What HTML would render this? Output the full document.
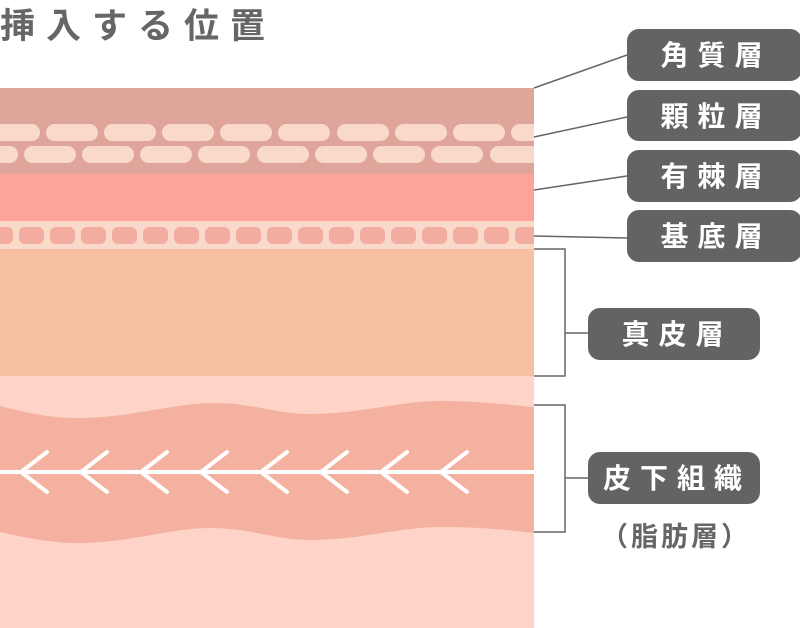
<!DOCTYPE html>
<html><head><meta charset="utf-8"><style>
body{margin:0;width:800px;height:628px;overflow:hidden;background:#fff;font-family:"Liberation Sans","Noto Sans CJK JP",sans-serif}
</style></head><body>
<svg width="800" height="628" viewBox="0 0 800 628" xmlns="http://www.w3.org/2000/svg" style="position:absolute;left:0;top:0">
<defs><clipPath id="c"><rect x="0" y="0" width="534" height="628"/></clipPath></defs>
<text x="0" y="38" font-size="35" font-weight="bold" fill="#666" letter-spacing="11" font-family="Liberation Sans, Noto Sans CJK JP, sans-serif">挿入する位置</text>
<g clip-path="url(#c)">
<rect x="0" y="88" width="534" height="86" fill="#dfa59a"/>
<g fill="#f9d9ca">
<rect x="-12" y="124" width="52" height="17" rx="8.5"/><rect x="46" y="124" width="52" height="17" rx="8.5"/><rect x="104" y="124" width="52" height="17" rx="8.5"/><rect x="162" y="124" width="52" height="17" rx="8.5"/><rect x="220" y="124" width="52" height="17" rx="8.5"/><rect x="278" y="124" width="52" height="17" rx="8.5"/><rect x="337" y="124" width="52" height="17" rx="8.5"/><rect x="395" y="124" width="52" height="17" rx="8.5"/><rect x="453" y="124" width="52" height="17" rx="8.5"/><rect x="511" y="124" width="52" height="17" rx="8.5"/>
<rect x="-34" y="146" width="52" height="17" rx="8.5"/><rect x="24" y="146" width="52" height="17" rx="8.5"/><rect x="82" y="146" width="52" height="17" rx="8.5"/><rect x="140" y="146" width="52" height="17" rx="8.5"/><rect x="198" y="146" width="52" height="17" rx="8.5"/><rect x="257" y="146" width="52" height="17" rx="8.5"/><rect x="315" y="146" width="52" height="17" rx="8.5"/><rect x="373" y="146" width="52" height="17" rx="8.5"/><rect x="431" y="146" width="52" height="17" rx="8.5"/><rect x="490" y="146" width="52" height="17" rx="8.5"/>
</g>
<rect x="0" y="174" width="534" height="47" fill="#fea39a"/>
<rect x="0" y="221" width="534" height="28" fill="#f9d9ca"/>
<g fill="#f2aca0">
<rect x="-12" y="227" width="25" height="17" rx="6"/><rect x="19" y="227" width="25" height="17" rx="6"/><rect x="50" y="227" width="25" height="17" rx="6"/><rect x="81" y="227" width="25" height="17" rx="6"/><rect x="112" y="227" width="25" height="17" rx="6"/><rect x="143" y="227" width="25" height="17" rx="6"/><rect x="174" y="227" width="25" height="17" rx="6"/><rect x="205" y="227" width="25" height="17" rx="6"/><rect x="236" y="227" width="25" height="17" rx="6"/><rect x="267" y="227" width="25" height="17" rx="6"/><rect x="298" y="227" width="25" height="17" rx="6"/><rect x="329" y="227" width="25" height="17" rx="6"/><rect x="360" y="227" width="25" height="17" rx="6"/><rect x="391" y="227" width="25" height="17" rx="6"/><rect x="422" y="227" width="25" height="17" rx="6"/><rect x="453" y="227" width="25" height="17" rx="6"/><rect x="484" y="227" width="25" height="17" rx="6"/><rect x="515" y="227" width="25" height="17" rx="6"/>
</g>
<rect x="0" y="249" width="534" height="127" fill="#f7c0a0"/>
<rect x="0" y="376" width="534" height="252" fill="#fed3c8"/>
<path d="M0 406 C30 414 55 418 77 418 C130 418 170 404 210 403 C250 402 275 414 310 414 C360 414 400 401 440 401 C480 401 510 405 534 407 L534 533 C510 530 480 527 440 527 C400 527 360 540 310 540 C275 540 250 528 210 528 C170 528 130 543 77 543 C55 543 30 539 0 532 Z" fill="#f4b19f"/>
<line x1="0" y1="472" x2="534" y2="472" stroke="#fff" stroke-width="4"/>
<g stroke="#fff" stroke-width="4" stroke-linecap="round" fill="none">
<polyline points="47,452 21,472 47,492"/><polyline points="107,452 81,472 107,492"/><polyline points="167,452 141,472 167,492"/><polyline points="227,452 201,472 227,492"/><polyline points="287,452 261,472 287,492"/><polyline points="347,452 321,472 347,492"/><polyline points="407,452 381,472 407,492"/><polyline points="467,452 441,472 467,492"/>
</g>
</g>
<g stroke="#666" stroke-width="1.5" fill="none">
<line x1="534" y1="88" x2="627" y2="55"/>
<line x1="534" y1="137" x2="627" y2="117"/>
<line x1="534" y1="190" x2="627" y2="176"/>
<line x1="534" y1="236" x2="627" y2="238"/>
<polyline points="534,249 565,249 565,376 534,376"/>
<line x1="565" y1="333" x2="588" y2="333"/>
<polyline points="534,405 565,405 565,532 534,532"/>
<line x1="565" y1="478" x2="588" y2="478"/>
</g>
<g fill="#636363">
<rect x="627" y="29" width="175" height="52" rx="12"/>
<rect x="627" y="90" width="175" height="51" rx="12"/>
<rect x="627" y="150" width="175" height="52" rx="12"/>
<rect x="627" y="210" width="175" height="52" rx="12"/>
<rect x="588" y="308" width="172" height="52" rx="12"/>
<rect x="588" y="452" width="172" height="52" rx="12"/>
</g>
<g fill="#fff" font-size="28" font-weight="bold" text-anchor="middle" letter-spacing="9" font-family="Liberation Sans, Noto Sans CJK JP, sans-serif">
<text x="716" y="65">角質層</text>
<text x="716" y="126">顆粒層</text>
<text x="716" y="186">有棘層</text>
<text x="716" y="246">基底層</text>
<text x="677" y="344">真皮層</text>
<text x="677" y="488">皮下組織</text>
</g>
<text x="676" y="546" fill="#666" font-size="27" font-weight="bold" text-anchor="middle" letter-spacing="3" font-family="Liberation Sans, Noto Sans CJK JP, sans-serif">（脂肪層）</text>
</svg>
</body></html>
